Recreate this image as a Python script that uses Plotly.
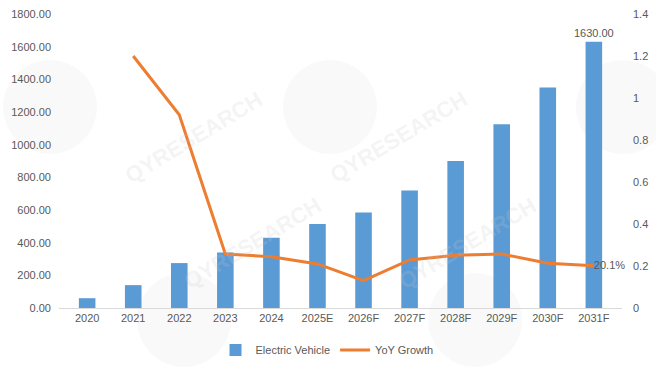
import plotly.graph_objects as go

categories = ["2020", "2021", "2022", "2023", "2024", "2025E", "2026F",
              "2027F", "2028F", "2029F", "2030F", "2031F"]
ev_values = [60, 140, 275, 340, 430, 515, 585, 720, 900, 1125, 1350, 1630]
yoy_growth = [None, 1.20, 0.92, 0.257, 0.244, 0.21, 0.13, 0.229, 0.251, 0.257, 0.213, 0.201]
left_ticks = [0, 200, 400, 600, 800, 1000, 1200, 1400, 1600, 1800]
right_ticks = [0, 0.2, 0.4, 0.6, 0.8, 1.0, 1.2, 1.4]
right_tick_text = ["0", "0.2", "0.4", "0.6", "0.8", "1", "1.2", "1.4"]

BAR = "#5B9BD5"
LINE = "#ED7D31"
GREY = "#595959"

W, H = 656, 370
ML, MR, MT, MB = 59, 34, 14, 62
PW, PH = W - ML - MR, H - MT - MB

bar_text = [""] * (len(ev_values) - 1) + [f"{ev_values[-1]:.2f}"]
line_text = [""] * (len(yoy_growth) - 1) + [f"{yoy_growth[-1]*100:.1f}%"]

fig = go.Figure()
fig.add_trace(go.Bar(
    x=categories, y=ev_values, name="Electric Vehicle",
    marker=dict(color=BAR, line=dict(width=0)),
    text=bar_text, textposition="outside", cliponaxis=False,
    constraintext="none",
    textfont=dict(color=GREY, size=11),
))
fig.add_trace(go.Scatter(
    x=categories, y=yoy_growth, name="YoY Growth", yaxis="y2",
    mode="lines+text", line=dict(color=LINE, width=3),
    text=line_text, textposition="middle right", cliponaxis=False,
    textfont=dict(color=GREY, size=11),
))

# faint watermark (decoration): globe circles + rotated brand text, in pixels
def px_to_paper(px, py):
    return (px - ML) / PW, (MT + PH - py) / PH

watermark_centres = [(50, 107), (330, 107), (623, 107), (184, 320), (475, 320)]
R = 47
shapes = []
annotations = []
for cx, cy in watermark_centres:
    x0, y0 = px_to_paper(cx - R, cy + R)
    x1, y1 = px_to_paper(cx + R, cy - R)
    shapes.append(dict(type="circle", xref="paper", yref="paper",
                       x0=x0, y0=y0, x1=x1, y1=y1, layer="below",
                       fillcolor="rgba(0,0,0,0.025)", line=dict(width=0)))
    if cx + 68 + 75 > W:
        continue
    tx, ty = px_to_paper(cx + 68, cy - 23)
    annotations.append(dict(
        text="<b>QYRESEARCH</b>", x=tx, y=ty, xref="paper", yref="paper",
        showarrow=False, textangle=-31,
        font=dict(size=22, color="rgba(200,200,200,0.2)", family="Arial"),
    ))

legend_x, legend_y = px_to_paper(327, 350)

fig.update_layout(
    width=W, height=H,
    margin=dict(l=ML, r=MR, t=MT, b=MB, autoexpand=False),
    paper_bgcolor="white", plot_bgcolor="rgba(0,0,0,0)",
    font=dict(family="Liberation Sans, Arial, sans-serif", color=GREY, size=11),
    bargap=0.64,
    showlegend=True,
    legend=dict(orientation="h", x=legend_x, xanchor="center",
                y=legend_y, yanchor="middle", bgcolor="rgba(0,0,0,0)",
                font=dict(size=11, color=GREY), itemwidth=30, tracegroupgap=0),
    xaxis=dict(showgrid=False, showline=True, linecolor="#D9D9D9", linewidth=1,
               ticks="", tickfont=dict(size=11, color=GREY), tickangle=0),
    yaxis=dict(range=[0, 1800], tickvals=left_ticks, tickformat=".2f",
               showgrid=False, zeroline=False, showline=False,
               tickfont=dict(size=11, color=GREY), ticklabelstandoff=7),
    yaxis2=dict(range=[0, 1.4], tickvals=right_ticks, ticktext=right_tick_text,
                overlaying="y", side="right", showgrid=False, zeroline=False,
                showline=False, tickfont=dict(size=11, color=GREY), ticklabelstandoff=10),
    shapes=shapes,
    annotations=annotations,
)

fig.write_html("out.html", config={"displayModeBar": False},
               post_script="document.body.style.margin='0';")
